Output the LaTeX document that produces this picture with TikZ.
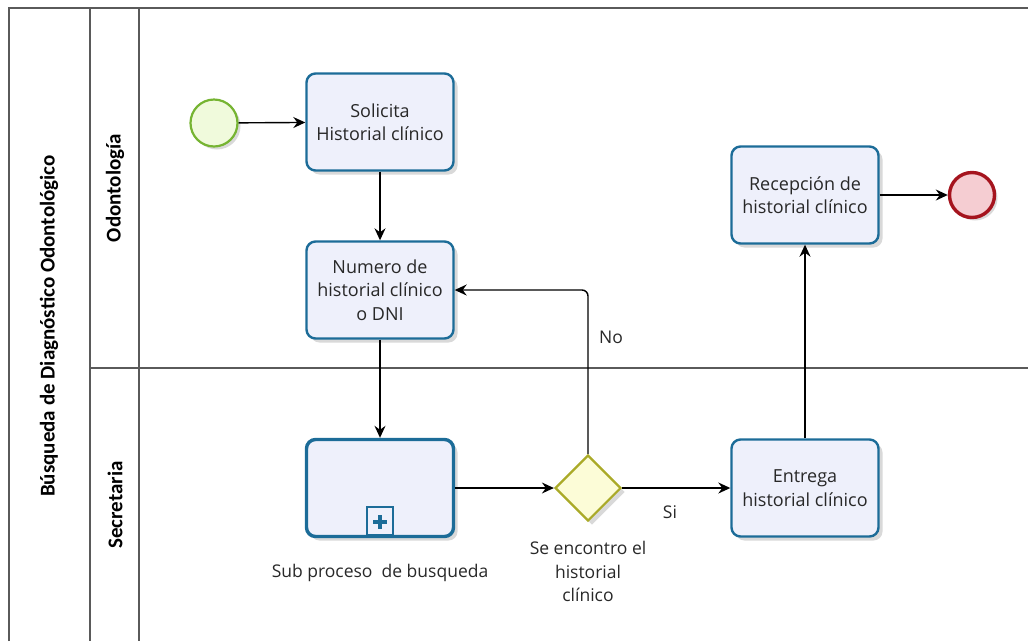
\documentclass[tikz,border=0pt]{standalone}
\usepackage{fontspec}
\setmainfont{Open Sans}
\newfontfamily\lanefont{Carlito}
\usetikzlibrary{arrows.meta,shadows,shapes.geometric}
\definecolor{taskborder}{RGB}{28,108,152}
\definecolor{taskfill}{RGB}{238,240,251}
\definecolor{startborder}{RGB}{118,180,50}
\definecolor{startfill}{RGB}{240,250,220}
\definecolor{endborder}{RGB}{165,20,30}
\definecolor{endfill}{RGB}{245,205,210}
\definecolor{gwborder}{RGB}{170,170,40}
\definecolor{gwfill}{RGB}{252,252,215}
\definecolor{txt}{RGB}{40,40,40}
\definecolor{poolline}{RGB}{90,90,90}
\tikzset{
  taskbox/.style={draw=taskborder, line width=2.4pt, fill=taskfill, rounded corners=9pt,
    minimum width=147pt, minimum height=97pt, align=center, text=txt, inner sep=2pt,
    font=\fontsize{18}{23.5}\selectfont,
    drop shadow={shadow xshift=4pt, shadow yshift=-4pt, opacity=0.15, fill=black}},
  subbox/.style={taskbox, line width=3.4pt},
  startev/.style={circle, draw=startborder, line width=2.2pt, fill=startfill, minimum size=47pt,
    drop shadow={shadow xshift=3pt, shadow yshift=-3pt, opacity=0.15, fill=black}},
  endev/.style={circle, draw=endborder, line width=3.4pt, fill=endfill, minimum size=45pt,
    drop shadow={shadow xshift=3pt, shadow yshift=-3pt, opacity=0.15, fill=black}},
  gateway/.style={diamond, draw=gwborder, line width=2.2pt, fill=gwfill, minimum width=66pt, minimum height=66pt, inner sep=0pt,
    drop shadow={shadow xshift=4pt, shadow yshift=-4pt, opacity=0.15, fill=black}},
  flow/.style={draw=black, line width=1.4pt, -{Stealth[length=12pt,width=11pt,inset=4pt]}},
  lbl/.style={text=txt, font=\fontsize{17.5}{23.5}\selectfont, align=center},
  lanetitle/.style={rotate=90, font=\lanefont\bfseries\fontsize{21}{24}\selectfont},
  pool/.style={draw=poolline, line width=1.4pt}
}
\begin{document}
\begin{tikzpicture}[x=1pt,y=-1pt]
\useasboundingbox (0,0) rectangle (1028,641);
% pool and lanes
\draw[pool] (9,641) -- (9,8) -- (1028,8);
\draw[pool] (90,8) -- (90,641);
\draw[pool] (139,8) -- (139,641);
\draw[pool] (90,368) -- (1028,368);
\node[lanetitle] (pooltitle) at (49,326) {Búsqueda de Diagnóstico Odontológico};
\node[lanetitle] (lane1) at (115,188) {Odontología};
\node[lanetitle] (lane2) at (115,505) {Secretaria};
% nodes
\node[startev] (start) at (214,123) {};
\node[taskbox] (solicita) at (380,122) {Solicita\\Historial clínico};
\node[taskbox] (numero) at (380,290) {Numero de\\historial clínico\\o DNI};
\node[subbox] (sub) at (380,488) {};
\node[draw=taskborder, line width=2pt, fill=taskfill, minimum width=26pt, minimum height=28pt, anchor=south, inner sep=0pt] (marker) at (380,536) {};
\draw[taskborder, line width=3.6pt] (373,522) -- (387,522) (380,515) -- (380,529);
\node[lbl, anchor=north] (sublbl) at (380,561) {Sub proceso\ \ de busqueda};
\node[gateway] (gw) at (588,488) {};
\node[lbl, anchor=north] (gwlbl) at (588,538) {Se encontro el\\historial\\clínico};
\node[taskbox] (entrega) at (805,488) {Entrega\\historial clínico};
\node[taskbox] (recepcion) at (805,195) {Recepción de\\historial clínico};
\node[endev] (end) at (972,195) {};
% flows
\draw[flow] (start) -- (solicita);
\draw[flow] (solicita) -- (numero);
\draw[flow] (numero) -- (sub);
\draw[flow] (sub) -- (gw);
\draw[flow, rounded corners=6pt] (gw.north) |- (numero.east);
\node[lbl] (nolbl) at (611,337) {No};
\draw[flow] (gw.east) -- (entrega.west);
\node[lbl] (silbl) at (670,512) {Si};
\draw[flow] (entrega) -- (recepcion);
\draw[flow] (recepcion) -- (end);
\end{tikzpicture}
\end{document}
